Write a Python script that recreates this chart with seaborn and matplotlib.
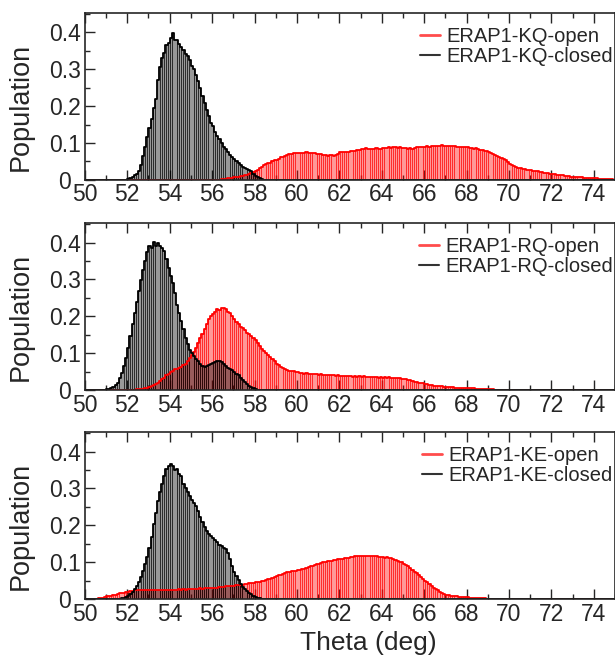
import numpy as np
import pandas as pd
import matplotlib
matplotlib.use("Agg")
import matplotlib.pyplot as plt
from matplotlib.lines import Line2D
from matplotlib.ticker import MultipleLocator, FixedLocator, FixedFormatter
from matplotlib.colors import to_rgba
import seaborn as sns

sns.set_style("ticks")
plt.rcParams['font.family'] = ['Liberation Sans', 'DejaVu Sans']

# histogram populations, 0.1 deg bins, first value = bin starting at *_start
kq_closed_start = 51.9
kq_closed = [0.001,
             0.003, 0.005, 0.008, 0.012, 0.017, 0.023, 0.040, 0.065, 0.090, 0.117,
             0.140, 0.165, 0.195, 0.220, 0.270, 0.305, 0.330, 0.345, 0.365, 0.372,
             0.385, 0.397, 0.380, 0.378, 0.368, 0.360, 0.352, 0.340, 0.335, 0.325,
             0.310, 0.302, 0.285, 0.268, 0.250, 0.228, 0.208, 0.190, 0.172, 0.155,
             0.145, 0.130, 0.118, 0.110, 0.100, 0.090, 0.085, 0.077, 0.068, 0.063,
             0.057, 0.050, 0.045, 0.040, 0.036, 0.032, 0.030, 0.026, 0.023, 0.016,
             0.011, 0.007, 0.004, 0.002, 0.001]

kq_open_start = 56.0
kq_open = [0.000, 0.000, 0.001, 0.001, 0.002, 0.002, 0.003, 0.004, 0.005, 0.006,
           0.007, 0.008, 0.009, 0.010, 0.011, 0.012, 0.013, 0.016, 0.019, 0.021,
           0.023, 0.027, 0.032, 0.036, 0.040, 0.043, 0.045, 0.047, 0.050, 0.053,
           0.055, 0.058, 0.061, 0.063, 0.065, 0.068, 0.069, 0.070, 0.072, 0.072,
           0.073, 0.074, 0.073, 0.074, 0.075, 0.074, 0.073, 0.074, 0.072, 0.071,
           0.070, 0.069, 0.067, 0.068, 0.066, 0.067, 0.068, 0.066, 0.068, 0.070,
           0.075, 0.075, 0.076, 0.077, 0.077, 0.078, 0.079, 0.079, 0.080, 0.082,
           0.083, 0.084, 0.086, 0.085, 0.084, 0.085, 0.084, 0.086, 0.085, 0.084,
           0.086, 0.087, 0.087, 0.088, 0.087, 0.089, 0.088, 0.087, 0.088, 0.086,
           0.087, 0.086, 0.085, 0.086, 0.084, 0.086, 0.089, 0.088, 0.089, 0.090,
           0.089, 0.091, 0.090, 0.092, 0.093, 0.093, 0.092, 0.093, 0.094, 0.093,
           0.093, 0.092, 0.093, 0.092, 0.091, 0.090, 0.090, 0.089, 0.089, 0.088,
           0.088, 0.087, 0.086, 0.085, 0.086, 0.083, 0.081, 0.080, 0.079, 0.078,
           0.077, 0.074, 0.070, 0.068, 0.065, 0.062, 0.059, 0.056, 0.053, 0.049,
           0.044, 0.040, 0.037, 0.035, 0.033, 0.031, 0.030, 0.029, 0.028, 0.027,
           0.026, 0.025, 0.024, 0.023, 0.022, 0.021, 0.020, 0.019, 0.018, 0.017,
           0.016, 0.015, 0.014, 0.014, 0.013, 0.012, 0.011, 0.011, 0.010, 0.009,
           0.009, 0.008, 0.008, 0.007, 0.007, 0.006, 0.006, 0.005, 0.005, 0.005,
           0.004, 0.004, 0.003, 0.003, 0.003, 0.002, 0.002, 0.002, 0.002, 0.001]

rq_closed_start = 50.9
rq_closed = [0.001,
             0.002, 0.003, 0.005, 0.008, 0.014, 0.020, 0.032, 0.046, 0.065, 0.088,
             0.115, 0.148, 0.178, 0.210, 0.240, 0.270, 0.298, 0.325, 0.350, 0.375,
             0.390, 0.386, 0.402, 0.392, 0.398, 0.390, 0.385, 0.377, 0.355, 0.330,
             0.310, 0.290, 0.262, 0.232, 0.210, 0.188, 0.165, 0.142, 0.125, 0.108,
             0.100, 0.092, 0.085, 0.078, 0.072, 0.066, 0.063, 0.066, 0.068, 0.072,
             0.074, 0.076, 0.079, 0.078, 0.076, 0.072, 0.066, 0.060, 0.057, 0.054,
             0.050, 0.045, 0.040, 0.034, 0.028, 0.022, 0.017, 0.012, 0.008, 0.005,
             0.003, 0.001]

rq_open_start = 52.0
rq_open = [0.000, 0.000, 0.001, 0.001, 0.002, 0.002, 0.003, 0.004, 0.005, 0.006,
           0.008, 0.010, 0.013, 0.016, 0.020, 0.024, 0.030, 0.034, 0.040, 0.044,
           0.048, 0.052, 0.056, 0.058, 0.061, 0.064, 0.068, 0.072, 0.080, 0.086,
           0.095, 0.104, 0.115, 0.128, 0.140, 0.152, 0.165, 0.178, 0.192, 0.200,
           0.206, 0.212, 0.220, 0.218, 0.222, 0.224, 0.220, 0.213, 0.208, 0.200,
           0.192, 0.185, 0.178, 0.172, 0.168, 0.164, 0.156, 0.152, 0.148, 0.142,
           0.135, 0.128, 0.120, 0.112, 0.106, 0.100, 0.094, 0.090, 0.084, 0.078,
           0.072, 0.068, 0.064, 0.060, 0.057, 0.055, 0.053, 0.052, 0.051, 0.050,
           0.049, 0.047, 0.046, 0.045, 0.046, 0.045, 0.044, 0.045, 0.044, 0.043,
           0.042, 0.043, 0.042, 0.041, 0.042, 0.041, 0.040, 0.041, 0.039, 0.040,
           0.039, 0.038, 0.039, 0.037, 0.038, 0.037, 0.036, 0.037, 0.036, 0.037,
           0.036, 0.037, 0.036, 0.035, 0.036, 0.035, 0.036, 0.035, 0.034, 0.035,
           0.034, 0.035, 0.034, 0.035, 0.034, 0.033, 0.034, 0.033, 0.032, 0.031,
           0.030, 0.029, 0.028, 0.027, 0.025, 0.023, 0.021, 0.020, 0.019, 0.018,
           0.017, 0.016, 0.014, 0.013, 0.012, 0.011, 0.011, 0.010, 0.010, 0.009,
           0.009, 0.008, 0.008, 0.008, 0.007, 0.007, 0.007, 0.006, 0.006, 0.006,
           0.006, 0.005, 0.005, 0.005, 0.004, 0.004, 0.004, 0.003, 0.003, 0.003,
           0.002, 0.002, 0.002, 0.001, 0.001, 0.001]

ke_closed_start = 51.4
ke_closed = [0.001, 0.001, 0.002, 0.003, 0.005, 0.007,
             0.010, 0.014, 0.020, 0.027, 0.036, 0.046, 0.060, 0.076, 0.095, 0.114,
             0.140, 0.170, 0.205, 0.235, 0.265, 0.290, 0.312, 0.335, 0.352, 0.362,
             0.367, 0.362, 0.350, 0.352, 0.338, 0.335, 0.312, 0.300, 0.290, 0.280,
             0.270, 0.262, 0.252, 0.238, 0.222, 0.208, 0.195, 0.185, 0.178, 0.172,
             0.165, 0.160, 0.155, 0.148, 0.145, 0.140, 0.136, 0.125, 0.110, 0.090,
             0.075, 0.062, 0.052, 0.042, 0.034, 0.028, 0.023, 0.018, 0.014, 0.010,
             0.007, 0.005, 0.003, 0.002, 0.001]

ke_open_start = 50.5
ke_open = [0.002, 0.003, 0.004, 0.005, 0.006,
           0.008, 0.009, 0.010, 0.012, 0.013, 0.014, 0.016, 0.017, 0.018, 0.020,
           0.021, 0.022, 0.023, 0.024, 0.025, 0.025, 0.026, 0.025, 0.026, 0.025,
           0.026, 0.025, 0.026, 0.026, 0.025, 0.026, 0.025, 0.026, 0.026, 0.025,
           0.026, 0.025, 0.026, 0.026, 0.027, 0.026, 0.027, 0.026, 0.027, 0.028,
           0.027, 0.028, 0.029, 0.028, 0.030, 0.029, 0.030, 0.031, 0.030, 0.031,
           0.031, 0.032, 0.032, 0.033, 0.034, 0.033, 0.035, 0.035, 0.036, 0.037,
           0.037, 0.038, 0.039, 0.040, 0.040, 0.041, 0.042, 0.043, 0.044, 0.045,
           0.046, 0.047, 0.048, 0.050, 0.051, 0.053, 0.055, 0.056, 0.059, 0.061,
           0.063, 0.065, 0.067, 0.069, 0.071, 0.073, 0.075, 0.076, 0.077, 0.078,
           0.079, 0.080, 0.081, 0.083, 0.085, 0.087, 0.089, 0.091, 0.093, 0.095,
           0.097, 0.099, 0.101, 0.102, 0.103, 0.104, 0.105, 0.106, 0.107, 0.108,
           0.109, 0.110, 0.111, 0.112, 0.113, 0.114, 0.115, 0.116, 0.116, 0.117,
           0.118, 0.118, 0.117, 0.118, 0.117, 0.116, 0.117, 0.116, 0.115, 0.115,
           0.114, 0.113, 0.114, 0.112, 0.111, 0.109, 0.107, 0.104, 0.102, 0.100,
           0.097, 0.093, 0.089, 0.085, 0.080, 0.075, 0.070, 0.066, 0.061, 0.056,
           0.051, 0.046, 0.041, 0.037, 0.032, 0.028, 0.024, 0.020, 0.017, 0.014,
           0.012, 0.011, 0.010, 0.009, 0.008, 0.008, 0.007, 0.007, 0.007, 0.006,
           0.006, 0.005, 0.005, 0.004, 0.004, 0.004, 0.003, 0.003, 0.003, 0.002,
           0.002, 0.002, 0.002, 0.002, 0.001, 0.001, 0.001, 0.001, 0.001, 0.001,
           0.001, 0.001, 0.001]

panels = [
    ("ERAP1-KQ-open", kq_open_start, kq_open, "ERAP1-KQ-closed", kq_closed_start, kq_closed),
    ("ERAP1-RQ-open", rq_open_start, rq_open, "ERAP1-RQ-closed", rq_closed_start, rq_closed),
    ("ERAP1-KE-open", ke_open_start, ke_open, "ERAP1-KE-closed", ke_closed_start, ke_closed),
]

BIN = 0.1
edges = [round(k * BIN, 1) for k in range(500, 751)]


def to_frame(start, values):
    theta = np.round(start + BIN * (np.arange(len(values)) + 0.5), 3)
    return pd.DataFrame({"theta": theta, "population": values})


def draw_hist(ax, df, color):
    # light translucent fill
    sns.histplot(data=df, x="theta", weights="population", bins=edges,
                 element="bars", facecolor=to_rgba(color, 0.4),
                 edgecolor="none", linewidth=0, ax=ax)
    # thin stripes, one per bin
    sns.histplot(data=df, x="theta", weights="population", bins=edges,
                 element="bars", shrink=0.42, facecolor=to_rgba(color, 0.7),
                 edgecolor="none", linewidth=0, antialiased=False, ax=ax)
    sns.histplot(data=df, x="theta", weights="population", bins=edges,
                 element="step", fill=False, color=color, linewidth=1.3, ax=ax)


fig = plt.figure(figsize=(6.15, 6.59), dpi=100)
boxes = [(0.980, 0.727), (0.661, 0.408), (0.344, 0.0905)]

for (oname, ostart, ovals, cname, cstart, cvals), (top, bot) in zip(panels, boxes):
    ax = fig.add_axes([0.138, bot, 1.0 - 0.138, top - bot])
    draw_hist(ax, to_frame(ostart, ovals), "red")
    draw_hist(ax, to_frame(cstart, cvals), "black")

    ax.set_xlim(50, 75)
    ax.set_ylim(0, 0.452)
    ax.xaxis.set_major_locator(MultipleLocator(2))
    ax.xaxis.set_minor_locator(MultipleLocator(1))
    ax.yaxis.set_major_locator(FixedLocator([0, 0.1, 0.2, 0.3, 0.4]))
    ax.yaxis.set_major_formatter(FixedFormatter(["0", "0.1", "0.2", "0.3", "0.4"]))
    ax.yaxis.set_minor_locator(MultipleLocator(0.05))
    ax.tick_params(which="both", direction="in", top=True, right=False,
                   width=1.0, labelsize=16.5)
    ax.tick_params(axis="x", pad=2.5)
    ax.tick_params(axis="y", pad=14.5)
    for lab in ax.get_yticklabels():
        lab.set_horizontalalignment("center")
    ax.tick_params(which="major", length=7)
    ax.tick_params(which="minor", length=3.5)
    for s in ax.spines.values():
        s.set_linewidth(1.2)
    ax.set_xlabel("")
    ax.set_ylabel("Population", fontsize=19.5)
    ax.yaxis.set_label_coords(-0.097, 0.44)

    handles = [Line2D([], [], color=to_rgba("red", 0.7), lw=2),
               Line2D([], [], color=to_rgba("black", 0.8), lw=1.5)]
    ax.legend(handles, [oname, cname], loc="upper right",
              bbox_to_anchor=(1.011, 1 - 6 / 166.6), frameon=False,
              fontsize=14.5, handlelength=1.0, handletextpad=0.3,
              labelspacing=0.05, borderaxespad=0, borderpad=0.4)

ax.set_xlabel("Theta (deg)", fontsize=19)
ax.xaxis.set_label_coords(0.535, -0.19)

fig.savefig("out.png", dpi=100)
